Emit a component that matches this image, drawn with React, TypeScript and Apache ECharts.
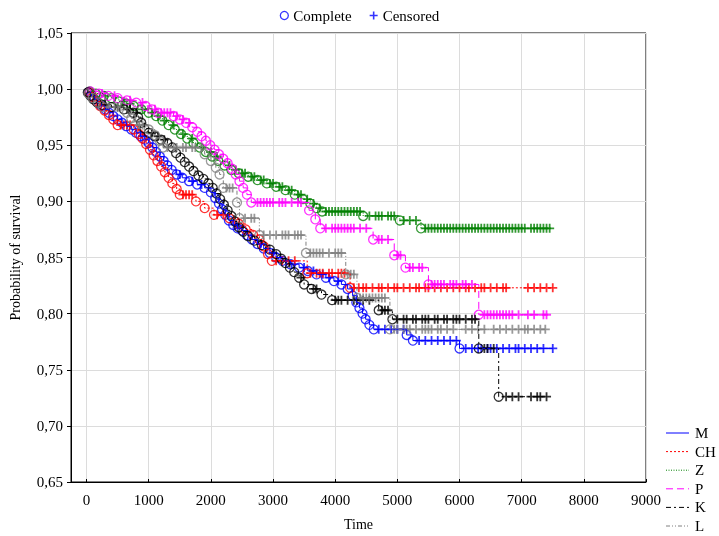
import React, { useEffect, useRef } from "react";
import * as echarts from "echarts";

const xTicks = [0, 1000, 2000, 3000, 4000, 5000, 6000, 7000, 8000, 9000];

const M_eventTimes = [30, 80, 130, 180, 240, 300, 360, 430, 500, 570, 640, 720, 800, 870, 940, 1000, 1060, 1120, 1180, 1240, 1300, 1370, 1450, 1540, 1650, 1780, 1900, 2000, 2070, 2130, 2180, 2230, 2290, 2360, 2430, 2500, 2580, 2660, 2750, 2850, 2950, 3050, 3150, 3280, 3420, 3560, 3700, 3850, 3980, 4100, 4200, 4280, 4340, 4390, 4440, 4490, 4550, 4620, 5150, 5250, 6000];
const M_eventSurv = [0.997, 0.994, 0.991, 0.988, 0.985, 0.982, 0.979, 0.976, 0.973, 0.97, 0.967, 0.964, 0.961, 0.958, 0.955, 0.952, 0.948, 0.944, 0.94, 0.936, 0.932, 0.928, 0.924, 0.921, 0.918, 0.915, 0.912, 0.908, 0.903, 0.898, 0.893, 0.888, 0.883, 0.879, 0.876, 0.874, 0.87, 0.866, 0.862, 0.858, 0.854, 0.85, 0.847, 0.844, 0.841, 0.838, 0.835, 0.832, 0.829, 0.826, 0.822, 0.816, 0.81, 0.805, 0.8, 0.795, 0.79, 0.786, 0.781, 0.776, 0.769];
const M_censored = [900, 1500, 1700, 1850, 2400, 2800, 3000, 3300, 3500, 3650, 3800, 3900, 4050, 4700, 4800, 4900, 5000, 5100, 5350, 5450, 5550, 5650, 5750, 5850, 5950, 6100, 6200, 6300, 6350, 6450, 6500, 6600, 6700, 6800, 6900, 6950, 7050, 7150, 7250, 7350, 7500];

const CH_eventTimes = [40, 100, 160, 220, 290, 360, 430, 500, 760, 840, 900, 960, 1020, 1080, 1140, 1200, 1260, 1320, 1380, 1450, 1500, 1760, 1900, 2050, 2300, 2450, 2560, 2680, 2780, 2850, 2920, 2980, 3550, 4240];
const CH_eventSurv = [0.997, 0.993, 0.989, 0.985, 0.981, 0.977, 0.973, 0.968, 0.964, 0.96, 0.956, 0.951, 0.946, 0.941, 0.936, 0.931, 0.926, 0.921, 0.916, 0.911, 0.906, 0.9, 0.894, 0.888, 0.885, 0.88, 0.875, 0.87, 0.866, 0.86, 0.853, 0.847, 0.836, 0.823];
const CH_censored = [550, 600, 650, 700, 1550, 1600, 1650, 1700, 2100, 2200, 3050, 3150, 3250, 3350, 3600, 3700, 3750, 3800, 3900, 3950, 4050, 4100, 4150, 4300, 4380, 4450, 4500, 4600, 4700, 4750, 4850, 4950, 5000, 5100, 5200, 5300, 5350, 5450, 5500, 5600, 5700, 5800, 5900, 6000, 6100, 6150, 6250, 6350, 6400, 6500, 6600, 6700, 6750, 7100, 7200, 7300, 7400, 7500];

const Z_eventTimes = [50, 150, 280, 400, 520, 640, 760, 880, 1000, 1120, 1220, 1320, 1420, 1520, 1620, 1720, 1820, 1920, 2020, 2120, 2220, 2330, 2450, 2600, 2750, 2900, 3050, 3200, 3350, 3480, 3600, 3700, 3790, 4450, 5040, 5380];
const Z_eventSurv = [0.998, 0.996, 0.994, 0.992, 0.989, 0.987, 0.985, 0.982, 0.979, 0.976, 0.972, 0.968, 0.964, 0.96, 0.956, 0.952, 0.948, 0.944, 0.94, 0.936, 0.932, 0.928, 0.925, 0.922, 0.919, 0.916, 0.913, 0.91, 0.906, 0.902, 0.898, 0.894, 0.891, 0.887, 0.883, 0.876];
const Z_censored = [300, 600, 700, 900, 1050, 1150, 1250, 1400, 1550, 1700, 1850, 2000, 2100, 2300, 2400, 2500, 2550, 2650, 2700, 2800, 2850, 2950, 3000, 3100, 3150, 3250, 3300, 3400, 3450, 3550, 3650, 3750, 3850, 3900, 3950, 4000, 4050, 4100, 4150, 4200, 4250, 4300, 4350, 4400, 4550, 4650, 4700, 4750, 4850, 4900, 4950, 5100, 5200, 5300, 5450, 5500, 5550, 5600, 5650, 5700, 5750, 5800, 5850, 5900, 5950, 6000, 6050, 6100, 6150, 6200, 6250, 6300, 6350, 6400, 6450, 6500, 6550, 6600, 6650, 6700, 6750, 6800, 6850, 6900, 6950, 7000, 7050, 7150, 7200, 7250, 7300, 7350, 7400, 7450];

const P_eventTimes = [60, 200, 350, 500, 650, 800, 950, 1050, 1150, 1400, 1500, 1600, 1700, 1780, 1850, 1920, 1990, 2060, 2130, 2200, 2270, 2340, 2400, 2460, 2520, 2580, 2650, 3580, 3680, 3760, 4610, 4950, 5130, 5500, 6310];
const P_eventSurv = [0.998, 0.996, 0.994, 0.992, 0.99, 0.988, 0.985, 0.982, 0.979, 0.976, 0.973, 0.97, 0.966, 0.962, 0.958, 0.954, 0.95, 0.946, 0.942, 0.938, 0.934, 0.929, 0.924, 0.918, 0.912, 0.906, 0.899, 0.892, 0.884, 0.876, 0.866, 0.852, 0.841, 0.826, 0.799];
const P_censored = [250, 450, 700, 900, 1100, 1200, 1250, 1300, 1350, 1450, 1550, 1650, 2750, 2800, 2850, 2900, 2950, 3000, 3100, 3150, 3200, 3300, 3400, 3450, 3850, 3950, 4000, 4050, 4100, 4150, 4200, 4250, 4300, 4400, 4500, 4700, 4750, 4850, 5000, 5050, 5200, 5250, 5350, 5400, 5550, 5600, 5650, 5700, 5750, 5850, 5900, 5950, 6050, 6100, 6200, 6400, 6450, 6500, 6550, 6600, 6650, 6700, 6750, 6800, 6850, 6950, 7100, 7200, 7350, 7400];

const K_eventTimes = [20, 60, 110, 170, 250, 400, 600, 750, 830, 880, 930, 1000, 1100, 1200, 1300, 1380, 1440, 1510, 1580, 1650, 1720, 1800, 1880, 1960, 2030, 2090, 2150, 2210, 2270, 2330, 2390, 2450, 2520, 2600, 2700, 2820, 2950, 3050, 3130, 3200, 3270, 3340, 3420, 3500, 3620, 3780, 3950, 4700, 4920, 6310, 6630];
const K_eventSurv = [0.997, 0.994, 0.991, 0.988, 0.986, 0.984, 0.982, 0.979, 0.975, 0.97, 0.965, 0.961, 0.958, 0.955, 0.952, 0.948, 0.943, 0.939, 0.935, 0.931, 0.927, 0.923, 0.92, 0.916, 0.912, 0.907, 0.902, 0.897, 0.892, 0.887, 0.882, 0.877, 0.873, 0.869, 0.865, 0.861, 0.857, 0.853, 0.849, 0.845, 0.841, 0.837, 0.832, 0.826, 0.822, 0.817, 0.812, 0.803, 0.795, 0.769, 0.726];
const K_censored = [300, 500, 650, 700, 800, 1050, 1150, 1250, 3450, 3650, 3700, 4000, 4050, 4100, 4200, 4300, 4350, 4450, 4550, 4750, 4800, 4850, 5000, 5100, 5150, 5250, 5300, 5400, 5450, 5500, 5600, 5650, 5750, 5800, 5900, 5950, 6000, 6100, 6200, 6250, 6400, 6450, 6550, 6750, 6850, 6950, 7150, 7250, 7300, 7400];

const L_eventTimes = [30, 100, 180, 260, 650, 720, 780, 1000, 1100, 1180, 1230, 1900, 2000, 2080, 2140, 2200, 2420, 2460, 2780, 3530, 4170, 4350, 4880];
const L_eventSurv = [0.996, 0.992, 0.988, 0.984, 0.979, 0.974, 0.968, 0.964, 0.959, 0.954, 0.948, 0.942, 0.936, 0.93, 0.924, 0.912, 0.899, 0.885, 0.87, 0.854, 0.835, 0.814, 0.786];
const L_censored = [350, 450, 500, 550, 850, 900, 1300, 1400, 1450, 1550, 1600, 1700, 1750, 1850, 2250, 2300, 2350, 2550, 2650, 2700, 2850, 2950, 3050, 3150, 3200, 3250, 3350, 3400, 3450, 3600, 3650, 3700, 3750, 3800, 3900, 4000, 4050, 4100, 4200, 4250, 4300, 4400, 4450, 4500, 4550, 4600, 4650, 4700, 4750, 4800, 4950, 5000, 5100, 5150, 5200, 5300, 5400, 5450, 5500, 5550, 5650, 5700, 5800, 5900, 6100, 6200, 6300, 6400, 6550, 6650, 6750, 6850, 6950, 7050, 7100, 7200, 7300, 7380];

const groupNames = ["M", "CH", "Z", "P", "K", "L"];
const groupColors = ["#0000ff", "#ff0000", "#008000", "#ff00ff", "#000000", "#808080"];
const groupDash: (number[] | "solid")[] = ["solid", [2, 2], [1, 1.5], [7, 4], [5, 3, 2, 3], [4, 2, 1, 2, 1, 2]];

const groups = [
  { t: M_eventTimes, s: M_eventSurv, c: M_censored },
  { t: CH_eventTimes, s: CH_eventSurv, c: CH_censored },
  { t: Z_eventTimes, s: Z_eventSurv, c: Z_censored },
  { t: P_eventTimes, s: P_eventSurv, c: P_censored },
  { t: K_eventTimes, s: K_eventSurv, c: K_censored },
  { t: L_eventTimes, s: L_eventSurv, c: L_censored },
];

const PLUS = "path://M0,4H10V6H0Z M4,0H6V10H4Z";
const FONT = "'Liberation Serif', 'Times New Roman', serif";

function survAt(t: number[], s: number[], x: number) {
  let v = 1;
  for (let i = 0; i < t.length; i++) {
    if (t[i] <= x) v = s[i];
  }
  return v;
}

export default function App() {
  const ref = useRef<HTMLDivElement>(null);
  useEffect(() => {
    if (!ref.current) return;
    const chart = echarts.init(ref.current, null, { renderer: "svg" });
    const series: any[] = [];
    groups.forEach((g, gi) => {
      const color = groupColors[gi];
      const lastT = Math.max(g.t[g.t.length - 1], g.c[g.c.length - 1]);
      const lineData: number[][] = [[0, 1]];
      g.t.forEach((t, i) => lineData.push([t, g.s[i]]));
      lineData.push([lastT, survAt(g.t, g.s, lastT)]);
      series.push({
        name: groupNames[gi],
        type: "line",
        step: "end",
        data: lineData,
        symbol: "none",
        lineStyle: { color, width: 1, type: groupDash[gi] },
        silent: true,
      });
      series.push({
        name: gi === 0 ? "Complete" : groupNames[gi] + " complete",
        type: "scatter",
        data: g.t.map((t, i) => [t, g.s[i]]),
        symbol: "circle",
        symbolSize: 9,
        itemStyle: { color: "rgba(0,0,0,0)", borderColor: color, borderWidth: 1.3 },
        silent: true,
      });
      series.push({
        name: gi === 0 ? "Censored" : groupNames[gi] + " censored",
        type: "scatter",
        data: g.c.map((c) => [c, survAt(g.t, g.s, c)]),
        symbol: PLUS,
        symbolSize: 9,
        itemStyle: { color },
        silent: true,
      });
    });

    const legendGraphics: any[] = [];
    groupNames.forEach((n, i) => {
      const y = 433 + i * 18.6;
      legendGraphics.push({
        type: "line",
        shape: { x1: 666, y1: y, x2: 689, y2: y },
        style: {
          stroke: groupColors[i],
          lineWidth: 1,
          lineDash: groupDash[i] === "solid" ? null : groupDash[i],
        },
      });
      legendGraphics.push({
        type: "text",
        x: 695,
        y,
        style: {
          text: n,
          font: `15px ${FONT}`,
          fill: "#000",
          verticalAlign: "middle",
          align: "left",
        },
      });
    });

    chart.setOption({
      animation: false,
      textStyle: { fontFamily: FONT },
      grid: {
        left: 67,
        right: 73,
        top: 33,
        bottom: 52,
        show: true,
        borderColor: "#000",
        borderWidth: 1,
      },
      legend: {
        data: [
          {
            name: "Complete",
            icon: "circle",
            itemStyle: { color: "rgba(0,0,0,0)", borderColor: "#0000ff", borderWidth: 1.3 },
          },
          { name: "Censored", icon: PLUS, itemStyle: { color: "#0000ff" } },
        ],
        top: 3,
        left: "center",
        itemWidth: 8,
        itemHeight: 8,
        itemGap: 18,
        textStyle: { fontFamily: FONT, fontSize: 15, color: "#000" },
      },
      xAxis: {
        type: "value",
        min: -250,
        max: 9000,
        name: "Time",
        nameLocation: "middle",
        nameGap: 35,
        nameTextStyle: { fontFamily: FONT, fontSize: 14, color: "#000" },
        axisLine: { onZero: false, lineStyle: { color: "#000", width: 1 } },
        axisTick: { show: true, inside: true, length: 3, customValues: xTicks, lineStyle: { color: "#000" } },
        axisLabel: {
          customValues: xTicks,
          fontFamily: FONT,
          fontSize: 15,
          color: "#000",
          margin: 10,
          formatter: (v: number) => String(v),
        },
        splitLine: { show: true, lineStyle: { color: "#dcdcdc", width: 1 } },
      },
      yAxis: {
        type: "value",
        min: 0.65,
        max: 1.05,
        interval: 0.05,
        name: "Probability of survival",
        nameLocation: "middle",
        nameGap: 49,
        nameRotate: 90,
        nameTextStyle: { fontFamily: FONT, fontSize: 14, color: "#000" },
        axisLine: { show: true, onZero: false, lineStyle: { color: "#000", width: 1 } },
        axisTick: { show: true, inside: false, length: 4, lineStyle: { color: "#000" } },
        axisLabel: {
          fontFamily: FONT,
          fontSize: 15,
          color: "#000",
          margin: 8,
          formatter: (v: number) => v.toFixed(2).replace(".", ","),
        },
        splitLine: { show: true, lineStyle: { color: "#dcdcdc", width: 1 } },
      },
      graphic: legendGraphics,
      series,
    });
    return () => chart.dispose();
  }, []);
  return (
    <div
      ref={ref}
      style={{ position: "fixed", left: 0, top: 0, width: 719, height: 536 }}
    />
  );
}
